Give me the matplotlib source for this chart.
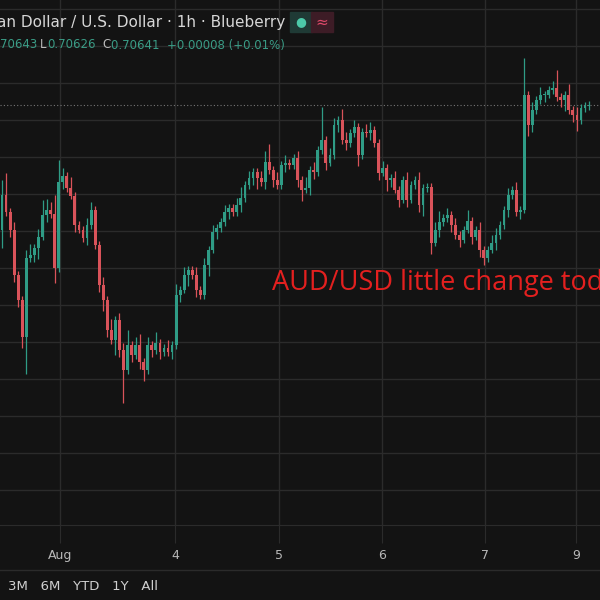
import numpy as np
import matplotlib.pyplot as plt

# 1h candles, AUD/USD (close, plus wick sizes in pips above/below the body)
closes = [
    0.70397, 0.70351, 0.70303, 0.70181, 0.70114, 0.70014, 0.70227, 0.70235, 0.70254, 0.70284,
    0.70343, 0.70357, 0.70346, 0.70200, 0.70432, 0.70449, 0.70416, 0.70395, 0.70316, 0.70303,
    0.70281, 0.70316, 0.70357, 0.70262, 0.70154, 0.70114, 0.70032, 0.70005, 0.70059, 0.69978,
    0.69924, 0.69992, 0.69965, 0.69992, 0.69946, 0.69924, 0.69992, 0.69978, 0.69997, 0.69973,
    0.69984, 0.69973, 0.69992, 0.70127, 0.70141, 0.70181, 0.70195, 0.70181, 0.70141, 0.70127,
    0.70208, 0.70249, 0.70297, 0.70308, 0.70324, 0.70351, 0.70362, 0.70351, 0.70370, 0.70389,
    0.70424, 0.70443, 0.70459, 0.70443, 0.70432, 0.70486, 0.70465, 0.70438, 0.70424, 0.70478,
    0.70484, 0.70478, 0.70497, 0.70438, 0.70411, 0.70416, 0.70465, 0.70459, 0.70519, 0.70546,
    0.70484, 0.70505, 0.70586, 0.70600, 0.70546, 0.70538, 0.70565, 0.70581, 0.70505, 0.70568,
    0.70565, 0.70573, 0.70538, 0.70457, 0.70470, 0.70438, 0.70443, 0.70411, 0.70384, 0.70438,
    0.70384, 0.70424, 0.70438, 0.70370, 0.70416, 0.70419, 0.70268, 0.70303, 0.70324, 0.70335,
    0.70343, 0.70316, 0.70289, 0.70276, 0.70303, 0.70327, 0.70284, 0.70303, 0.70249, 0.70227,
    0.70249, 0.70268, 0.70289, 0.70316, 0.70357, 0.70397, 0.70411, 0.70351, 0.70357, 0.70668,
    0.70586, 0.70627, 0.70654, 0.70668, 0.70668, 0.70681, 0.70686, 0.70662, 0.70654, 0.70668,
    0.70627, 0.70614, 0.70600, 0.70632, 0.70638, 0.70641,
]
first_open = 0.70303
wick_hi = [
    4, 6, 1, 2, 1, 1, 2, 3, 1, 2, 4, 3, 2, 5, 6, 2, 1, 3, 1, 1,
    1, 2, 2, 1, 1, 2, 1, 3, 1, 2, 2, 4, 1, 2, 3, 1, 2, 1, 3, 1,
    1, 2, 1, 3, 1, 2, 1, 1, 2, 1, 2, 1, 2, 1, 1, 2, 1, 1, 2, 3,
    1, 2, 1, 1, 2, 3, 5, 1, 2, 1, 2, 1, 1, 2, 1, 3, 1, 2, 1, 9,
    1, 2, 2, 1, 3, 2, 1, 2, 1, 1, 2, 2, 1, 1, 2, 1, 1, 2, 1, 1,
    2, 1, 1, 2, 1, 1, 1, 2, 3, 1, 2, 1, 2, 1, 1, 3, 1, 1, 2, 1,
    1, 2, 2, 1, 1, 2, 1, 2, 1, 10, 1, 2, 1, 2, 1, 1, 2, 5, 1, 1,
    3, 1, 2, 1, 1, 1,
]
wick_lo = [
    5, 1, 2, 2, 2, 3, 10, 1, 2, 3, 1, 2, 1, 4, 1, 2, 1, 1, 2, 1,
    1, 2, 1, 1, 2, 3, 2, 1, 4, 2, 9, 1, 2, 1, 2, 3, 1, 2, 1, 2,
    1, 1, 2, 1, 2, 1, 3, 1, 2, 1, 1, 3, 1, 2, 1, 1, 2, 1, 1, 2,
    1, 1, 2, 3, 1, 2, 1, 2, 1, 1, 2, 1, 1, 2, 3, 1, 2, 2, 1, 1,
    2, 1, 1, 2, 1, 2, 1, 1, 3, 1, 1, 2, 1, 2, 1, 3, 2, 1, 2, 1,
    2, 1, 1, 2, 3, 1, 3, 1, 2, 1, 1, 2, 1, 2, 1, 1, 2, 1, 2, 2,
    1, 1, 2, 1, 1, 2, 1, 1, 2, 1, 3, 2, 1, 1, 2, 1, 1, 1, 2, 3,
    1, 2, 3, 1, 1, 1,
]
day_labels = ["Aug", "4", "5", "6", "7", "9"]
day_pos = [14.3, 42.7, 68.4, 93.8, 119.3, 141.7]
last_price = 0.70641

bg = "#131313"
grid_c = "#2b2b2b"
up_c = "#2f9c86"
dn_c = "#d9535a"

fig = plt.figure(figsize=(6, 6), dpi=100, facecolor=bg)
ax = fig.add_axes([0, 75 / 600, 1, 525 / 600])
ax.set_facecolor(bg)

opens = [first_open] + closes[:-1]
for i, (o, c) in enumerate(zip(opens, closes)):
    col = up_c if c >= o else dn_c
    hi = max(o, c) + wick_hi[i] / 10000
    lo = min(o, c) - wick_lo[i] / 10000
    ax.vlines(i, lo, hi, color=col, lw=0.9, zorder=3)
    h = abs(c - o) if abs(c - o) > 0.00002 else 0.00002
    ax.bar(i, h, bottom=min(o, c), width=0.7, color=col, zorder=4)

ax.axhline(last_price, color="#777777", lw=0.8, ls=(0, (1, 2)), zorder=2)

ax.set_xlim(-0.5, 147.7)
ax.set_ylim(0.69505, 0.70924)
ax.set_yticks(np.arange(0.6960, 0.7091, 0.001))
ax.set_xticks(day_pos)
ax.set_xticklabels(day_labels, color="#b8b8b8", fontsize=9)
ax.tick_params(axis="x", length=13, color=grid_c, pad=4, direction="out")
ax.tick_params(axis="y", length=0, labelleft=False)
ax.grid(True, color=grid_c, lw=1.0)
for s in ax.spines.values():
    s.set_visible(False)
ax.spines["bottom"].set_visible(True)
ax.spines["bottom"].set_color(grid_c)

# header
fig.text(-0.005, 1 - 22 / 600, "an Dollar / U.S. Dollar · 1h · Blueberry", color="#d6d6d6",
         fontsize=11, va="center", ha="left")
fig.text(0, 1 - 45 / 600, "70643", color="#3a9c86", fontsize=8.5, va="center")
fig.text(40 / 600, 1 - 45 / 600, "L", color="#bbbbbb", fontsize=8.5, va="center")
fig.text(47 / 600, 1 - 45 / 600, "0.70626", color="#3a9c86", fontsize=8.5, va="center")
fig.text(102 / 600, 1 - 45 / 600, "C", color="#bbbbbb", fontsize=8.5, va="center")
fig.text(111 / 600, 1 - 45 / 600, "0.70641  +0.00008 (+0.01%)", color="#3a9c86",
         fontsize=8.5, va="center")
fig.patches.append(plt.Rectangle((290 / 600, 1 - 32 / 600), 22 / 600, 20 / 600,
                                 transform=fig.transFigure, color="#1f3a35", zorder=1))
fig.text(301 / 600, 1 - 22 / 600, "●", color="#4cc9a8", fontsize=9, ha="center",
         va="center", zorder=6)
fig.patches.append(plt.Rectangle((311 / 600, 1 - 32 / 600), 22 / 600, 20 / 600,
                                 transform=fig.transFigure, color="#3d1c26", zorder=1))
fig.text(322 / 600, 1 - 22 / 600, "≈", color="#e04a6a", fontsize=11, ha="center",
         va="center", zorder=6)

fig.text(272 / 600, 1 - 283 / 600, "AUD/USD little change today", color="#e3201f",
         fontsize=19.5, va="center", ha="left", family="Open Sans")

# bottom range bar
fig.add_artist(plt.Line2D([0, 1], [1 - 570 / 600] * 2, color=grid_c, lw=1))
fig.text(8 / 600, 1 - 586 / 600, "3M   6M   YTD   1Y   All", color="#cfcfcf",
         fontsize=9.5, va="center")

fig.savefig("out.png", dpi=100, facecolor=bg)
